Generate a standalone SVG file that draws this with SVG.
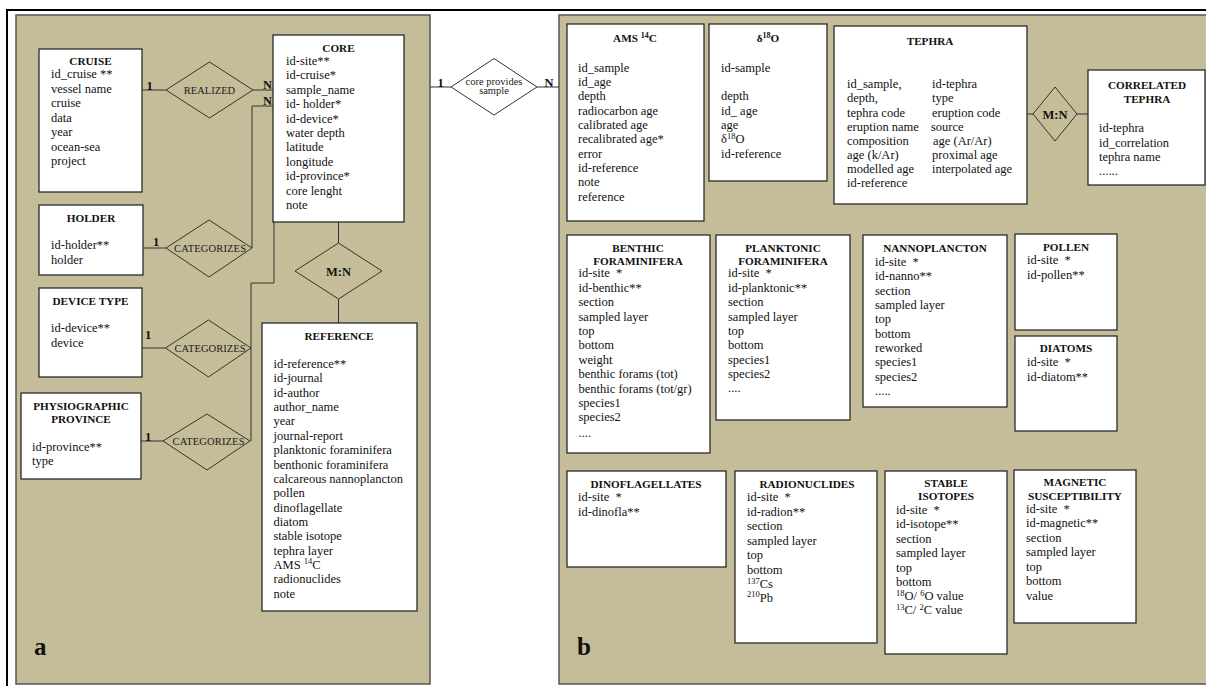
<svg xmlns="http://www.w3.org/2000/svg" width="1206" height="686" viewBox="0 0 1206 686">
<style>
.t{font-family:"Liberation Serif","Times New Roman",serif;font-size:12.5px;fill:#111}
.h{font-family:"Liberation Serif","Times New Roman",serif;font-size:11.2px;font-weight:bold;fill:#111;text-anchor:middle}
.c{font-family:"Liberation Serif","Times New Roman",serif;font-weight:bold;font-size:12.5px;fill:#111}
.d{font-family:"Liberation Serif","Times New Roman",serif;font-size:10.5px;fill:#1a1a1a;text-anchor:middle}
.big{font-family:"Liberation Serif","Times New Roman",serif;font-weight:bold;font-size:25px;fill:#111}
.box{fill:#fff;stroke:#2a2a2a;stroke-width:1.3}
.panel{fill:#c5bd9a;stroke:#555;stroke-width:1.5}
.dia{fill:none;stroke:#333;stroke-width:1}
.ln{fill:none;stroke:#333;stroke-width:1}
</style>
<rect x="0" y="0" width="1206" height="686" fill="#fff"/>
<rect x="7" y="10" width="1220" height="700" fill="none" stroke="#000" stroke-width="2"/>
<rect class="panel" x="16" y="15" width="414" height="669"/>
<rect class="panel" x="559" y="15" width="660" height="669"/>

<g id="connectors">
  <polyline class="ln" points="142,90 166,90"/>
  <polyline class="ln" points="253,90 273,90"/>
  <polyline class="ln" points="143,248 166,248"/>
  <polyline class="ln" points="252,248 252,106 273,106"/>
  <polyline class="ln" points="142,348 165.5,348"/>
  <polyline class="ln" points="251,441 251,283 274,283 274,222"/>
  <polyline class="ln" points="141,441 163,441"/>
  <polyline class="ln" points="338.5,222 338.5,243"/>
  <polyline class="ln" points="338.5,299 338.5,323"/>
  <polyline class="ln" points="430,87 451,87"/>
  <polyline class="ln" points="537,87 559,87"/>
  <polyline class="ln" points="1027,114 1033,114"/>
  <polyline class="ln" points="1077,114 1088,114"/>
  <text class="c" x="146.5" y="90">1</text>
  <text class="c" x="263" y="89">N</text>
  <text class="c" x="153" y="246">1</text>
  <text class="c" x="263" y="105">N</text>
  <text class="c" x="145" y="339">1</text>
  <text class="c" x="145" y="441">1</text>
  <text class="c" x="437.5" y="87">1</text>
  <text class="c" x="544.5" y="87">N</text>
</g>

<g id="rel-realized">
  <polygon class="dia" points="166,90 209.5,62 253,90 209.5,118"/>
  <text class="d" x="209.5" y="93.5" font-size="9.5">REALIZED</text>
</g>
<g id="rel-categorizes-holder">
  <polygon class="dia" points="166,248 209,220 252,248 209,277"/>
  <text class="d" x="210" y="251.5" textLength="72">CATEGORIZES</text>
</g>
<g id="rel-categorizes-device">
  <polygon class="dia" points="165.5,348 208.5,320 251,348 208.5,377"/>
  <text class="d" x="210" y="351.5" textLength="71">CATEGORIZES</text>
</g>
<g id="rel-categorizes-province">
  <polygon class="dia" points="163,441 207,414 250,441 207,470"/>
  <text class="d" x="208.5" y="444.5" textLength="72">CATEGORIZES</text>
</g>
<g id="rel-core-reference">
  <polygon class="dia" points="295,271 338.5,243 382,271 338.5,299"/>
  <text class="c" x="338.5" y="275.5" text-anchor="middle">M:N</text>
</g>
<g id="rel-core-sample">
  <polygon fill="#fff" stroke="#333" stroke-width="1" points="451,87 494,58.5 537,87 494,115"/>
  <text class="d" x="494" y="85" font-size="9.5">core provides</text>
  <text class="d" x="494" y="94" font-size="9.5">sample</text>
</g>
<g id="rel-tephra">
  <polygon class="dia" points="1033,114 1055,87 1077,114 1055,141"/>
  <text class="c" x="1055" y="118.5" text-anchor="middle">M:N</text>
</g>

<g id="cruise">
  <rect class="box" x="39" y="49" width="103" height="143"/>
  <text class="h" x="90.5" y="65">CRUISE</text>
  <text class="t" x="51" y="78">id_cruise **</text>
  <text class="t" x="51" y="92.5">vessel name</text>
  <text class="t" x="51" y="107">cruise</text>
  <text class="t" x="51" y="121.5">data</text>
  <text class="t" x="51" y="136">year</text>
  <text class="t" x="51" y="150.5">ocean-sea</text>
  <text class="t" x="51" y="165">project</text>
</g>

<g id="core">
  <rect class="box" x="273" y="35" width="131" height="187"/>
  <text class="h" x="338.5" y="51.5">CORE</text>
  <text class="t" x="286" y="65">id-site**</text>
  <text class="t" x="286" y="79.4">id-cruise*</text>
  <text class="t" x="286" y="93.8">sample_name</text>
  <text class="t" x="286" y="108.2">id- holder*</text>
  <text class="t" x="286" y="122.6">id-device*</text>
  <text class="t" x="286" y="137">water depth</text>
  <text class="t" x="286" y="151.4">latitude</text>
  <text class="t" x="286" y="165.8">longitude</text>
  <text class="t" x="286" y="180.2">id-province*</text>
  <text class="t" x="286" y="194.6">core lenght</text>
  <text class="t" x="286" y="209">note</text>
</g>

<g id="holder">
  <rect class="box" x="39" y="205" width="104" height="70"/>
  <text class="h" x="91" y="221.7">HOLDER</text>
  <text class="t" x="51" y="249">id-holder**</text>
  <text class="t" x="51" y="264">holder</text>
</g>

<g id="device-type">
  <rect class="box" x="39" y="288" width="103" height="89"/>
  <text class="h" x="90.5" y="304.7">DEVICE TYPE</text>
  <text class="t" x="51" y="332.3">id-device**</text>
  <text class="t" x="51" y="346.7">device</text>
</g>

<g id="physiographic-province">
  <rect class="box" x="21" y="393" width="120" height="86"/>
  <text class="h" x="81" y="410">PHYSIOGRAPHIC</text>
  <text class="h" x="81" y="423">PROVINCE</text>
  <text class="t" x="32" y="451.3">id-province**</text>
  <text class="t" x="32" y="465">type</text>
</g>

<g id="reference">
  <rect class="box" x="262" y="323" width="155" height="288"/>
  <text class="h" x="339" y="339.5">REFERENCE</text>
  <text class="t" x="273.5" y="368">id-reference**</text>
  <text class="t" x="273.5" y="382.4">id-journal</text>
  <text class="t" x="273.5" y="396.7">id-author</text>
  <text class="t" x="273.5" y="411.1">author_name</text>
  <text class="t" x="273.5" y="425.4">year</text>
  <text class="t" x="273.5" y="439.8">journal-report</text>
  <text class="t" x="273.5" y="454.1">planktonic foraminifera</text>
  <text class="t" x="273.5" y="468.5">benthonic foraminifera</text>
  <text class="t" x="273.5" y="482.8">calcareous nannoplancton</text>
  <text class="t" x="273.5" y="497.2">pollen</text>
  <text class="t" x="273.5" y="511.5">dinoflagellate</text>
  <text class="t" x="273.5" y="525.9">diatom</text>
  <text class="t" x="273.5" y="540.2">stable isotope</text>
  <text class="t" x="273.5" y="554.6">tephra layer</text>
  <text class="t" x="273.5" y="568.9">AMS <tspan font-size="8.5" dy="-4.5">14</tspan><tspan dy="4.5">C</tspan></text>
  <text class="t" x="273.5" y="583.3">radionuclides</text>
  <text class="t" x="273.5" y="597.6">note</text>
</g>

<text class="big" x="34" y="655">a</text>
<text class="big" x="577" y="655">b</text>

<g id="ams14c">
  <rect class="box" x="567" y="24" width="137" height="197"/>
  <text class="h" x="635" y="42">AMS <tspan font-size="8" dy="-4">14</tspan><tspan dy="4">C</tspan></text>
  <text class="t" x="578" y="71.7">id_sample</text>
  <text class="t" x="578" y="86">id_age</text>
  <text class="t" x="578" y="100.3">depth</text>
  <text class="t" x="578" y="114.7">radiocarbon age</text>
  <text class="t" x="578" y="129">calibrated age</text>
  <text class="t" x="578" y="143.3">recalibrated age*</text>
  <text class="t" x="578" y="157.7">error</text>
  <text class="t" x="578" y="172">id-reference</text>
  <text class="t" x="578" y="186.3">note</text>
  <text class="t" x="578" y="200.7">reference</text>
</g>

<g id="delta18o">
  <rect class="box" x="709" y="24" width="118" height="157"/>
  <text class="h" x="768" y="42">δ<tspan font-size="8" dy="-4">18</tspan><tspan dy="4">O</tspan></text>
  <text class="t" x="721" y="71.7">id-sample</text>
  <text class="t" x="721" y="100.3">depth</text>
  <text class="t" x="721" y="114.7">id_ age</text>
  <text class="t" x="721" y="129">age</text>
  <text class="t" x="721" y="143.3">δ<tspan font-size="8.5" dy="-4.5">18</tspan><tspan dy="4.5">O</tspan></text>
  <text class="t" x="721" y="157.7">id-reference</text>
</g>

<g id="tephra">
  <rect class="box" x="834" y="26" width="193" height="178"/>
  <text class="h" x="930" y="45">TEPHRA</text>
  <text class="t" x="847" y="88.3">id_sample,</text>
  <text class="t" x="847" y="102.3">depth,</text>
  <text class="t" x="847" y="116.7">tephra code</text>
  <text class="t" x="847" y="130.7">eruption name</text>
  <text class="t" x="847" y="145">composition</text>
  <text class="t" x="847" y="159">age (k/Ar)</text>
  <text class="t" x="847" y="173.3">modelled age</text>
  <text class="t" x="847" y="187.3">id-reference</text>
  <text class="t" x="932" y="88.3">id-tephra</text>
  <text class="t" x="932" y="102.3">type</text>
  <text class="t" x="932" y="116.7">eruption code</text>
  <text class="t" x="931" y="130.7">source</text>
  <text class="t" x="933" y="145">age (Ar/Ar)</text>
  <text class="t" x="932" y="159">proximal age</text>
  <text class="t" x="932" y="173.3">interpolated age</text>
</g>

<g id="correlated-tephra">
  <rect class="box" x="1088" y="70" width="117" height="115"/>
  <text class="h" x="1147" y="89">CORRELATED</text>
  <text class="h" x="1147" y="103">TEPHRA</text>
  <text class="t" x="1099" y="131.7">id-tephra</text>
  <text class="t" x="1099" y="146.7">id_correlation</text>
  <text class="t" x="1099" y="160.7">tephra name</text>
  <text class="t" x="1099" y="175" font-size="9">......</text>
</g>

<g id="benthic-foraminifera">
  <rect class="box" x="567" y="235" width="143" height="218"/>
  <text class="h" x="638" y="251.7">BENTHIC</text>
  <text class="h" x="638" y="265">FORAMINIFERA</text>
  <text class="t" x="578.5" y="277.3">id-site&#160; *</text>
  <text class="t" x="578.5" y="291.7">id-benthic**</text>
  <text class="t" x="578.5" y="306.1">section</text>
  <text class="t" x="578.5" y="320.5">sampled layer</text>
  <text class="t" x="578.5" y="334.9">top</text>
  <text class="t" x="578.5" y="349.3">bottom</text>
  <text class="t" x="578.5" y="363.7">weight</text>
  <text class="t" x="578.5" y="378.1">benthic forams (tot)</text>
  <text class="t" x="578.5" y="392.5">benthic forams (tot/gr)</text>
  <text class="t" x="578.5" y="406.9">species1</text>
  <text class="t" x="578.5" y="421.3">species2</text>
  <text class="t" x="578.5" y="436.5" font-size="9">....</text>
</g>

<g id="planktonic-foraminifera">
  <rect class="box" x="716" y="235" width="134" height="185"/>
  <text class="h" x="783" y="251.7">PLANKTONIC</text>
  <text class="h" x="783" y="265">FORAMINIFERA</text>
  <text class="t" x="728" y="277.3">id-site&#160; *</text>
  <text class="t" x="728" y="291.7">id-planktonic**</text>
  <text class="t" x="728" y="306.1">section</text>
  <text class="t" x="728" y="320.5">sampled layer</text>
  <text class="t" x="728" y="334.9">top</text>
  <text class="t" x="728" y="349.3">bottom</text>
  <text class="t" x="728" y="363.7">species1</text>
  <text class="t" x="728" y="378.1">species2</text>
  <text class="t" x="728" y="392" font-size="9">....</text>
</g>

<g id="nannoplancton">
  <rect class="box" x="863" y="235" width="144" height="172"/>
  <text class="h" x="935" y="251.7">NANNOPLANCTON</text>
  <text class="t" x="875" y="265.7">id-site&#160; *</text>
  <text class="t" x="875" y="280">id-nanno**</text>
  <text class="t" x="875" y="294.5">section</text>
  <text class="t" x="875" y="309">sampled layer</text>
  <text class="t" x="875" y="323.3">top</text>
  <text class="t" x="875" y="337.5">bottom</text>
  <text class="t" x="875" y="351.8">reworked</text>
  <text class="t" x="875" y="366.2">species1</text>
  <text class="t" x="875" y="380.6">species2</text>
  <text class="t" x="875" y="395" font-size="9">.....</text>
</g>

<g id="pollen">
  <rect class="box" x="1015" y="234" width="102" height="96"/>
  <text class="h" x="1066" y="250.7">POLLEN</text>
  <text class="t" x="1027" y="264">id-site&#160; *</text>
  <text class="t" x="1027" y="279">id-pollen**</text>
</g>

<g id="diatoms">
  <rect class="box" x="1015" y="336" width="102" height="95"/>
  <text class="h" x="1066" y="352.3">DIATOMS</text>
  <text class="t" x="1027" y="365.7">id-site&#160; *</text>
  <text class="t" x="1027" y="380.7">id-diatom**</text>
</g>

<g id="dinoflagellates">
  <rect class="box" x="567" y="471" width="159" height="96"/>
  <text class="h" x="646" y="488">DINOFLAGELLATES</text>
  <text class="t" x="578" y="501.3">id-site&#160; *</text>
  <text class="t" x="578" y="515.7">id-dinofla**</text>
</g>

<g id="radionuclides">
  <rect class="box" x="735" y="471" width="142" height="172"/>
  <text class="h" x="807" y="488">RADIONUCLIDES</text>
  <text class="t" x="747" y="501.3">id-site&#160; *</text>
  <text class="t" x="747" y="515.7">id-radion**</text>
  <text class="t" x="747" y="530">section</text>
  <text class="t" x="747" y="544.7">sampled layer</text>
  <text class="t" x="747" y="559.3">top</text>
  <text class="t" x="747" y="573.7">bottom</text>
  <text class="t" x="747" y="588"><tspan font-size="8.5" dy="-4.5">137</tspan><tspan dy="4.5">Cs</tspan></text>
  <text class="t" x="747" y="601.5"><tspan font-size="8.5" dy="-4.5">210</tspan><tspan dy="4.5">Pb</tspan></text>
</g>

<g id="stable-isotopes">
  <rect class="box" x="885" y="471" width="122" height="183"/>
  <text class="h" x="946" y="487.3">STABLE</text>
  <text class="h" x="946" y="499.7">ISOTOPES</text>
  <text class="t" x="896" y="514">id-site&#160; *</text>
  <text class="t" x="896" y="528.3">id-isotope**</text>
  <text class="t" x="896" y="543">section</text>
  <text class="t" x="896" y="557.3">sampled layer</text>
  <text class="t" x="896" y="571.7">top</text>
  <text class="t" x="896" y="585.7">bottom</text>
  <text class="t" x="896" y="600"><tspan font-size="8.5" dy="-4.5">18</tspan><tspan dy="4.5">O/ </tspan><tspan font-size="8.5" dy="-4.5">6</tspan><tspan dy="4.5">O value</tspan></text>
  <text class="t" x="896" y="614"><tspan font-size="8.5" dy="-4.5">13</tspan><tspan dy="4.5">C/ </tspan><tspan font-size="8.5" dy="-4.5">2</tspan><tspan dy="4.5">C value</tspan></text>
</g>

<g id="magnetic-susceptibility">
  <rect class="box" x="1014" y="470" width="122" height="153"/>
  <text class="h" x="1075" y="486.3">MAGNETIC</text>
  <text class="h" x="1075" y="499.7">SUSCEPTIBILITY</text>
  <text class="t" x="1026" y="513.3">id-site&#160; *</text>
  <text class="t" x="1026" y="527.3">id-magnetic**</text>
  <text class="t" x="1026" y="542.3">section</text>
  <text class="t" x="1026" y="556.3">sampled layer</text>
  <text class="t" x="1026" y="571.3">top</text>
  <text class="t" x="1026" y="584.7">bottom</text>
  <text class="t" x="1026" y="600">value</text>
</g>
</svg>
